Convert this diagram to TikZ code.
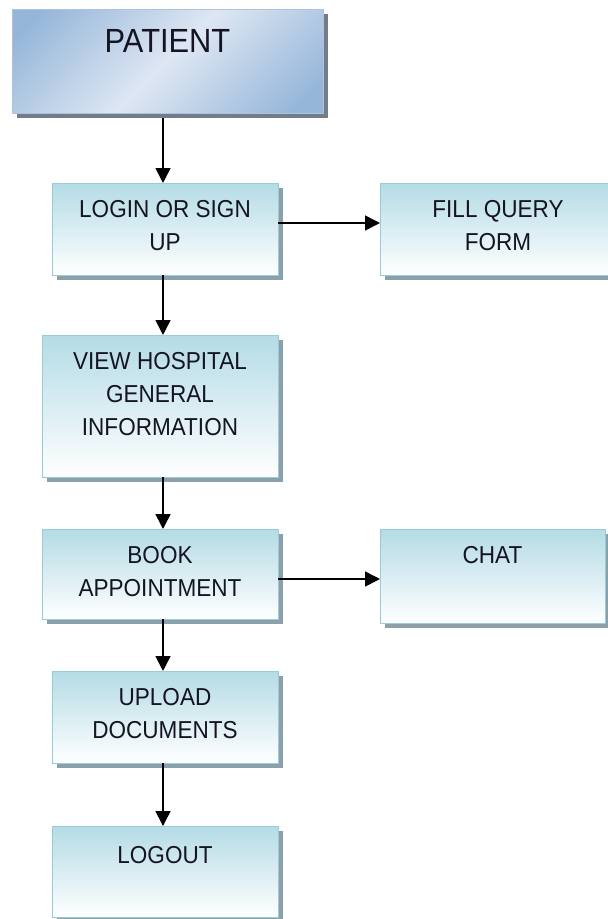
\documentclass[tikz,border=0pt]{standalone}
\usepackage{fontspec}
\setmainfont[FakeStretch=0.92]{Liberation Sans}
\usetikzlibrary{arrows.meta,shadows}
\definecolor{boxtop}{RGB}{180,219,229}
\definecolor{boxline}{RGB}{150,205,220}
\definecolor{shc}{RGB}{140,160,170}
\definecolor{patdark}{RGB}{150,182,217}
\definecolor{patlight}{RGB}{222,231,243}
\definecolor{patline}{RGB}{170,195,225}
\definecolor{patsh}{RGB}{115,125,135}
\definecolor{txt}{RGB}{20,20,35}
\pgfdeclarehorizontalshading{patshade}{100bp}{color(0bp)=(patdark); color(20bp)=(patdark); color(50bp)=(patlight); color(80bp)=(patdark); color(100bp)=(patdark)}
\newcommand{\lbl}[2]{\raisebox{#1pt}[0pt][0pt]{\begin{tabular}[t]{@{}c@{}}#2\end{tabular}}}
\tikzset{
  flowbox/.style={draw=boxline, line width=0.8pt, top color=boxtop, bottom color=white,
    inner sep=0pt, outer sep=0pt, text=txt,
    general shadow={fill=shc, shadow xshift=5pt, shadow yshift=-5pt},
    font=\fontsize{24.5}{33}\selectfont},
  patbox/.style={draw=patline, line width=0.8pt, shading=patshade, shading angle=-45,
    inner sep=0pt, outer sep=0pt, text=txt,
    general shadow={fill=patsh, shadow xshift=5pt, shadow yshift=-5pt},
    font=\fontsize{33.5}{40}\selectfont},
  flowarrow/.style={-{Triangle[length=15pt,width=15pt]}, line width=1.6pt, black}
}
\begin{document}
\begin{tikzpicture}[x=1pt,y=-1pt]
\fill[white] (0,0) rectangle (608,919);
\useasboundingbox (0,0) rectangle (608,919);
\node[patbox, minimum width=311pt, minimum height=104pt] (patient) at (167.5,61) {\lbl{9}{PATIENT}};
\node[flowbox, minimum width=226pt, minimum height=92pt] (login) at (165,229) {\lbl{12}{LOGIN OR SIGN\\UP}};
\node[flowbox, minimum width=236pt, minimum height=92pt] (fill) at (498,229) {\lbl{12}{FILL QUERY\\FORM}};
\node[flowbox, minimum width=236pt, minimum height=142pt] (view) at (160,406) {\lbl{37}{VIEW HOSPITAL\\GENERAL\\INFORMATION}};
\node[flowbox, minimum width=236pt, minimum height=90pt] (book) at (160,574) {\lbl{11}{BOOK\\APPOINTMENT}};
\node[flowbox, minimum width=225pt, minimum height=94pt] (chat) at (492.5,576) {\lbl{13}{CHAT}};
\node[flowbox, minimum width=226pt, minimum height=92pt] (upload) at (165,717) {\lbl{12}{UPLOAD\\DOCUMENTS}};
\node[flowbox, minimum width=226pt, minimum height=91pt] (logout) at (165,871.5) {\lbl{8.5}{LOGOUT}};
\coordinate (ax) at (163,0);
\coordinate (h1) at (0,223);
\coordinate (h2) at (0,579);
\draw[flowarrow, shorten <=5pt] (patient.south -| ax) -- (login.north -| ax);
\draw[flowarrow] (login.south -| ax) -- (view.north -| ax);
\draw[flowarrow] (view.south -| ax) -- (book.north -| ax);
\draw[flowarrow] (book.south -| ax) -- (upload.north -| ax);
\draw[flowarrow] (upload.south -| ax) -- (logout.north -| ax);
\draw[flowarrow] (login.east |- h1) -- (fill.west |- h1);
\draw[flowarrow] (book.east |- h2) -- (chat.west |- h2);
\end{tikzpicture}
\end{document}
